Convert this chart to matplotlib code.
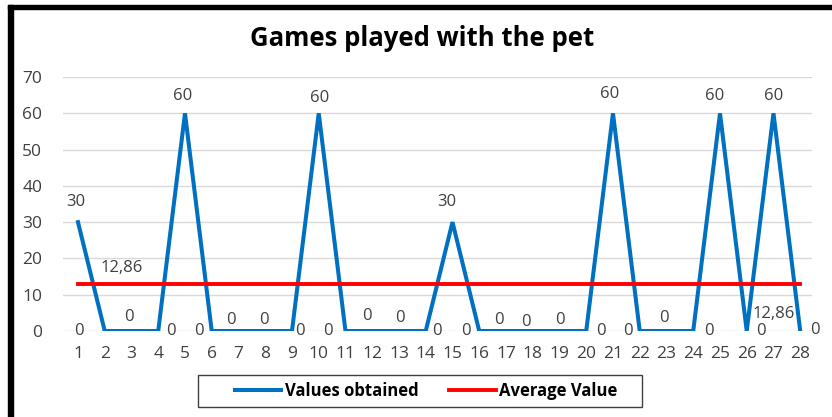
import matplotlib.pyplot as plt
from matplotlib.patches import Rectangle
import numpy as np

plt.rcParams['font.family'] = ['Open Sans', 'DejaVu Sans']

# minutes of play for each day of the month
days = list(range(1, 29))
values = [30, 0, 0, 0, 60, 0, 0, 0, 0, 60, 0, 0, 0, 0, 30,
          0, 0, 0, 0, 0, 60, 0, 0, 0, 60, 0, 60, 0]
day_labels = [str(d) for d in days]

# hand-placed data label offsets (data units) for each point
label_dx = [-0.07, -0.96, -0.09, 0.48, -0.07, -0.48, -0.28, -0.04, 0.30, 0.05,
            -0.65, -0.19, 0.04, 0.43, -0.2, -0.49, -0.26, -0.25, 0.0, 0.56,
            -0.14, -0.43, -0.09, 0.6, -0.2, 0.54, -0.01, 0.56]
label_dy = [5.5, 0, 3.9, 0, 4.8, 0, 3.0, 3.0, 0, 4.2, 0, 4.1, 3.6, 0, 5.5,
            0, 3.0, 2.5, 3.0, 0, 5.3, 0, 3.6, 0, 4.8, 0, 4.8, 0.3]

avg = np.mean(values)
avg_label_pos = [(2.65, 17.4), (27.0, 4.7)]

blue = '#0070C0'
red = '#FF0000'
grey_txt = '#404040'

fig = plt.figure(figsize=(8.32, 4.17), dpi=100)
ax = fig.add_axes([63 / 832, 1 - 331 / 417, (812 - 63) / 832, (331 - 77) / 417])

ax.plot(days, values, color=blue, lw=2.9, solid_joinstyle='miter', label='Values obtained', zorder=3)
ax.plot(days, [avg] * len(days), color=red, lw=2.8, label='Average Value', zorder=4)

for d, v, dx, dy in zip(days, values, label_dx, label_dy):
    ax.text(d + dx, v + dy, f'{v}', ha='center', va='center', fontsize=12, color=grey_txt, zorder=5)
avg_txt = f'{avg:.2f}'.replace('.', ',')
for x, y in avg_label_pos:
    ax.text(x, y, avg_txt, ha='center', va='center', fontsize=12, color=grey_txt, zorder=5)

ax.set_xlim(0.44, 28.44)
ax.set_ylim(0, 70)
ax.set_yticks(range(0, 71, 10))
ax.set_xticks(days)
ax.set_xticklabels(day_labels)
ax.tick_params(axis='both', length=0, labelsize=12.5, colors=grey_txt)
ax.tick_params(axis='y', pad=15)
ax.tick_params(axis='x', pad=11)
ax.grid(axis='y', color='#d9d9d9', lw=1)
ax.set_axisbelow(True)
for s in ax.spines.values():
    s.set_visible(False)

fig.text(422 / 832, 1 - 38 / 417, 'Games played with the pet', ha='center', va='center',
         fontsize=18.5, fontweight='bold', color='black')

# legend entries without their own frame; the box is drawn separately
fig.legend(loc='center', bbox_to_anchor=(426 / 832, 1 - 391 / 417), ncol=2,
           frameon=False, handlelength=2.8, handletextpad=0.2, columnspacing=1.85,
           prop={'weight': 'bold', 'size': 12})
fig.patches.append(Rectangle((198 / 832, 1 - 407 / 417), 444 / 832, 32 / 417,
                             transform=fig.transFigure, fill=False, edgecolor='#404040',
                             lw=1.0, zorder=10))

# frame edges along the top and left
fig.patches.append(Rectangle((8 / 832, 1 - 9 / 417), 1, 4 / 417, transform=fig.transFigure,
                             color='black', zorder=10))
fig.patches.append(Rectangle((8 / 832, 0), 5 / 832, 1 - 5 / 417, transform=fig.transFigure,
                             color='black', zorder=10))

fig.savefig('out.png', dpi=100)
